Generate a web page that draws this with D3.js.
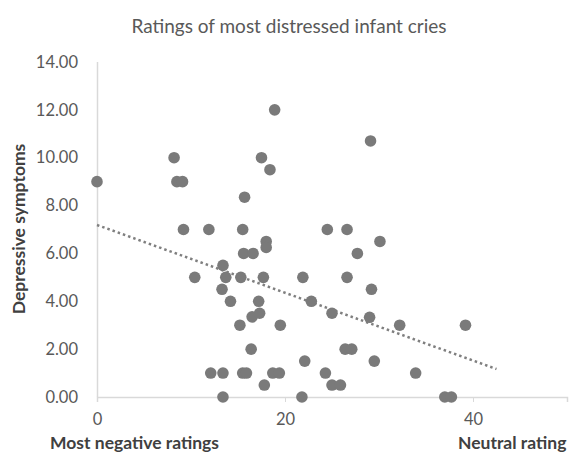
<!DOCTYPE html>
<html><head><meta charset="utf-8">
<script src="https://cdn.jsdelivr.net/npm/d3@7"></script>
<style>body{margin:0;background:#fff}svg{display:block}</style>
</head><body>
<script>
const title = "Ratings of most distressed infant cries";
const yLabel = "Depressive symptoms";
const xLabelLeft = "Most negative ratings";
const xLabelRight = "Neutral rating";
const ratings = [0,8.2,8.5,9.1,9.2,10.4,11.9,12.1,13.4,13.7,13.3,13.4,13.4,14.2,15.2,15.3,15.5,15.6,15.7,15.5,15.9,16.4,16.5,16.6,17.2,17.3,17.5,17.7,17.8,18.0,18.0,18.4,18.7,18.9,19.4,19.5,21.8,21.9,22.1,22.8,24.3,24.5,25.0,25.0,25.9,26.4,26.6,26.6,27.1,27.7,29.0,29.1,29.2,29.5,30.1,32.2,33.9,37.0,37.7,39.2];
const symptoms = [9,10,9,9,7,5,7,1,5.5,5,4.5,1,0,4,3,5,7,6,8.35,1,1,2,3.35,6,4,3.5,10,5,0.5,6.5,6.25,9.5,1,12,1,3,0,5,1.5,4,1,7,3.5,0.5,0.5,2,5,7,2,6,3.33,10.7,4.5,1.5,6.5,3,1,0,0,3];
const xTicks = [0,20,40];
const yTicks = [0,2,4,6,8,10,12,14];
const trendX = [0,42.5];
const trendY = [7.19,1.17];

const W=569,H=452;
const svg=d3.select("body").append("svg").attr("width",W).attr("height",H);
const x=d3.scaleLinear().domain([0,50]).range([97,567]);
const y=d3.scaleLinear().domain([0,14]).range([397,62]);
const font="Lato, 'Open Sans', sans-serif";

svg.append("text").attr("x",289).attr("y",33).attr("text-anchor","middle")
  .attr("font-family",font).attr("font-size",19).attr("fill","#595959").text(title);

// axes
const xa=svg.append("g").attr("transform","translate(0,397)")
  .call(d3.axisBottom(x).tickValues(xTicks).tickSize(5).tickPadding(11).tickFormat(d3.format("d")));
const ya=svg.append("g").attr("transform","translate(97,0)")
  .call(d3.axisLeft(y).tickValues(yTicks).tickSize(0).tickPadding(19).tickFormat(d3.format(".2f")));
[xa,ya].forEach(g=>{
  g.select(".domain").attr("stroke","#d9d9d9").attr("stroke-width",1.5);
  g.selectAll(".tick line").attr("stroke","#d9d9d9");
  g.selectAll(".tick text").attr("fill","#595959").attr("font-family",font).attr("font-size",16.5);
});
ya.select(".domain").attr("d","M0.5,62V397");

// trend
svg.append("line").attr("x1",x(trendX[0])).attr("y1",y(trendY[0]))
  .attr("x2",x(trendX[1])).attr("y2",y(trendY[1]))
  .attr("stroke","#7f7f7f").attr("stroke-width",2.5).attr("stroke-dasharray","2.5,3");

// points
svg.append("g").selectAll("circle").data(ratings.map((r,i)=>[r,symptoms[i]])).join("circle")
  .attr("cx",d=>x(d[0])).attr("cy",d=>y(d[1])).attr("r",5.8).attr("fill","#7a7a7a");

// labels
svg.append("text").attr("transform","translate(25,229) rotate(-90)").attr("text-anchor","middle")
  .attr("font-family",font).attr("font-size",17.5).attr("font-weight","bold").attr("fill","#404040").text(yLabel);
svg.append("text").attr("x",50).attr("y",449)
  .attr("font-family",font).attr("font-size",17.5).attr("font-weight","bold").attr("fill","#404040").text(xLabelLeft);
svg.append("text").attr("x",458).attr("y",449)
  .attr("font-family",font).attr("font-size",17.5).attr("font-weight","bold").attr("fill","#404040").text(xLabelRight);
</script>
</body></html>
